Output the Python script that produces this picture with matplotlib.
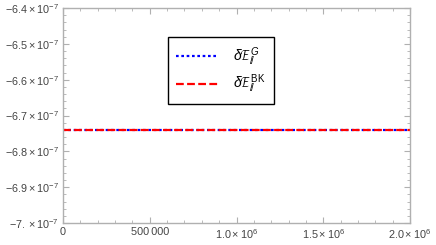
import numpy as np
import matplotlib
matplotlib.use("Agg")
import matplotlib.pyplot as plt
from matplotlib.ticker import FixedLocator, FixedFormatter, MultipleLocator

# data (both curves are flat)
x = [0, 2.0e6]
dE_G = [-6.74e-7, -6.74e-7]
dE_BK = [-6.74e-7, -6.74e-7]

xticks = [0, 5e5, 1.0e6, 1.5e6, 2.0e6]
xlabels = ["0", "500\u2009000", r"$1.0\times10^{6}$", r"$1.5\times10^{6}$", r"$2.0\times10^{6}$"]
yticks = [-7.0e-7, -6.9e-7, -6.8e-7, -6.7e-7, -6.6e-7, -6.5e-7, -6.4e-7]
ylabels = [r"$-7.\times10^{-7}$", r"$-6.9\times10^{-7}$", r"$-6.8\times10^{-7}$",
           r"$-6.7\times10^{-7}$", r"$-6.6\times10^{-7}$", r"$-6.5\times10^{-7}$",
           r"$-6.4\times10^{-7}$"]

plt.rcParams['font.family'] = ['Liberation Sans', 'DejaVu Sans']
plt.rcParams['mathtext.fontset'] = 'custom'
plt.rcParams['mathtext.rm'] = 'Liberation Sans'
plt.rcParams['mathtext.it'] = 'Liberation Sans:italic'

fig = plt.figure(figsize=(4.36, 2.45), dpi=100)
ax = fig.add_axes([63/436, 22/245, 347/436, 215/245])

ax.plot(x, dE_G, color='blue', ls=(0, (1.2, 1.2)), lw=1.6, label=r"$\delta\mathcal{E}_{/\!/}^{\,G}$")
ax.plot(x, dE_BK, color='red', ls=(0, (3.5, 1.5)), lw=1.6, label=r"$\delta\mathcal{E}_{/\!/}^{\,\mathrm{BK}}$")

ax.set_xlim(0, 2.0e6)
ax.set_ylim(-7.0e-7, -6.4e-7)

ax.xaxis.set_major_locator(FixedLocator(xticks))
ax.xaxis.set_major_formatter(FixedFormatter(xlabels))
ax.xaxis.set_minor_locator(MultipleLocator(1e5))
ax.yaxis.set_major_locator(FixedLocator(yticks))
ax.yaxis.set_major_formatter(FixedFormatter(ylabels))
ax.yaxis.set_minor_locator(MultipleLocator(0.02e-7))

for s in ax.spines.values():
    s.set_color('#b0b0b0')
    s.set_linewidth(1.0)
ax.tick_params(which='both', direction='in', top=True, right=True, color='#b0b0b0',
               labelsize=7.8, labelcolor='#444444', pad=3)
ax.tick_params(which='major', length=4, width=0.8)
ax.tick_params(which='minor', length=2, width=0.6)

leg = ax.legend(loc='upper left', bbox_to_anchor=(0.303, 0.865), fancybox=False,
                framealpha=1, edgecolor='black', fontsize=10, handlelength=3.0,
                borderpad=0.6, labelspacing=0.35, handletextpad=1.1, borderaxespad=0)
leg.get_frame().set_linewidth(1.0)

fig.savefig("out.png", dpi=100)
